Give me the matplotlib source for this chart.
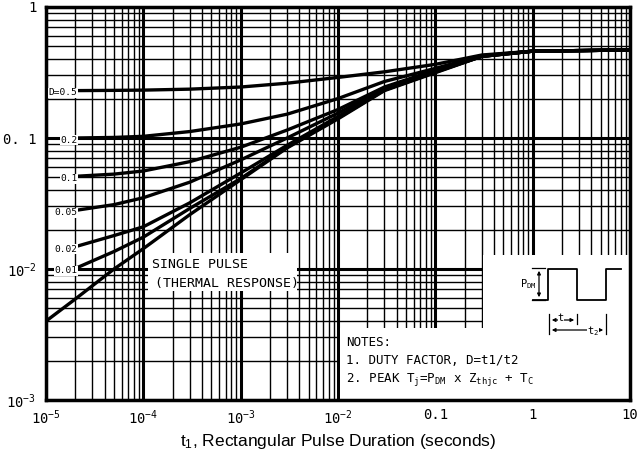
import matplotlib
matplotlib.use("Agg")
import matplotlib.pyplot as plt
from matplotlib.patches import Rectangle
from matplotlib.ticker import FixedLocator, FixedFormatter, LogLocator, NullFormatter

plt.rcParams['mathtext.default'] = 'regular'

# ---- data -------------------------------------------------------------
t_points = [2e-5, 5e-5, 1e-4, 3e-4, 1e-3, 3e-3, 1e-2, 3e-2, 0.1, 0.3, 1, 10]
z_d050 = [0.230, 0.231, 0.232, 0.236, 0.245, 0.262, 0.290, 0.320, 0.365, 0.430, 0.460, 0.470]
z_d020 = [0.100, 0.101, 0.103, 0.112, 0.128, 0.152, 0.200, 0.270, 0.340, 0.425, 0.460, 0.470]
z_d010 = [0.051, 0.053, 0.056, 0.066, 0.085, 0.115, 0.165, 0.245, 0.330, 0.422, 0.460, 0.470]
z_d005 = [0.028, 0.031, 0.035, 0.046, 0.068, 0.100, 0.155, 0.240, 0.325, 0.420, 0.460, 0.470]
z_d002 = [0.0148, 0.0180, 0.021, 0.032, 0.054, 0.088, 0.146, 0.235, 0.320, 0.420, 0.460, 0.470]
z_d001 = [0.0101, 0.0136, 0.0175, 0.029, 0.049, 0.085, 0.142, 0.232, 0.318, 0.420, 0.460, 0.470]
t_single = [1e-5, 2e-5, 5e-5, 1e-4, 3e-4, 1e-3, 3e-3, 1e-2, 3e-2, 0.1, 0.3, 1, 10]
z_single = [0.0040, 0.0059, 0.0100, 0.0143, 0.026, 0.048, 0.084, 0.140, 0.230, 0.315, 0.420, 0.460, 0.470]
duty_labels = ["D=0.5", "0.2", "0.1", "0.05", "0.02", "0.01"]
duty_series = [z_d050, z_d020, z_d010, z_d005, z_d002, z_d001]

x_ticks = [1e-5, 1e-4, 1e-3, 1e-2, 0.1, 1, 10]
x_ticklabels = ["$10^{-5}$", "$10^{-4}$", "$10^{-3}$", "$10^{-2}$", "0.1", "1", "10"]
y_ticks = [1e-3, 1e-2, 0.1, 1]
y_ticklabels = ["$10^{-3}$", "$10^{-2}$", "0. 1", "1"]

# ---- figure -----------------------------------------------------------
fig = plt.figure(figsize=(6.4, 4.5), dpi=100)
L, R, T, B = 46, 630, 7, 400
ax = fig.add_axes([L / 640, 1 - B / 450, (R - L) / 640, (B - T) / 450])
ax.set_xscale('log')
ax.set_yscale('log')
ax.set_xlim(1e-5, 10)
ax.set_ylim(1e-3, 1)

mono = 'DejaVu Sans Mono'

ax.xaxis.set_major_locator(FixedLocator(x_ticks))
ax.xaxis.set_major_formatter(FixedFormatter(x_ticklabels))
ax.yaxis.set_major_locator(FixedLocator(y_ticks))
ax.yaxis.set_major_formatter(FixedFormatter(y_ticklabels))
ax.xaxis.set_minor_locator(LogLocator(base=10, subs=range(2, 10), numticks=20))
ax.yaxis.set_minor_locator(LogLocator(base=10, subs=range(2, 10), numticks=20))
ax.xaxis.set_minor_formatter(NullFormatter())
ax.yaxis.set_minor_formatter(NullFormatter())
ax.tick_params(which='both', length=0)
ax.tick_params(axis='x', pad=6)
ax.tick_params(axis='y', pad=7)
for lab in ax.get_xticklabels() + ax.get_yticklabels():
    lab.set_fontfamily(mono)
    lab.set_fontsize(10)

ax.set_axisbelow(True)
ax.grid(True, which='major', color='black', lw=2.2)
ax.grid(True, which='minor', color='black', lw=1.0)
for s in ax.spines.values():
    s.set_linewidth(2.5)

# helper: pixel -> axes fraction
def P(px, py):
    return ((px - L) / (R - L), (B - py) / (B - T))

# white cut-outs of the grid
def white_box(x0, y0, x1, y1):
    a = P(x0, y1)
    b = P(x1, y0)
    ax.add_patch(Rectangle(a, b[0] - a[0], b[1] - a[1], transform=ax.transAxes,
                           facecolor='white', edgecolor='none', zorder=1))

white_box(148, 253, 297, 291)
white_box(483, 255, 629, 399)
white_box(340, 328, 629, 399)

# curves
for z in duty_series:
    ax.plot(t_points, z, color='black', lw=2.4, zorder=3, solid_capstyle='butt',
            solid_joinstyle='round')
ax.plot(t_single, z_single, color='black', lw=2.4, zorder=3, solid_capstyle='butt',
        solid_joinstyle='round')

# curve labels
for lab, z in zip(duty_labels, duty_series):
    ax.text(2.1e-5, z[0] * 0.96, lab, fontsize=6.8, family=mono, ha='right', va='center',
            zorder=4, bbox=dict(facecolor='white', edgecolor='none', pad=0.3))

# single pulse note
ax.text(*P(152, 265), "SINGLE PULSE", transform=ax.transAxes, fontsize=9.5,
        family=mono, va='center', ha='left', zorder=4)
ax.text(*P(155, 283), "(THERMAL RESPONSE)", transform=ax.transAxes, fontsize=9.5,
        family=mono, va='center', ha='left', zorder=4)

# notes
ax.text(*P(346, 343), "NOTES:", transform=ax.transAxes, fontsize=9, family=mono,
        va='center', zorder=4)
ax.text(*P(346, 361), "1. DUTY FACTOR, D=t1/t2", transform=ax.transAxes, fontsize=9,
        family=mono, va='center', zorder=4)
ax.text(*P(346, 380), "2. PEAK T$_j$=P$_{DM}$ x Z$_{thjc}$ + T$_C$", transform=ax.transAxes,
        fontsize=9, family=mono, va='center', zorder=4)

# pulse diagram
def line(pts, lw=1.3):
    xs, ys = zip(*[P(a, b) for a, b in pts])
    ax.plot(xs, ys, transform=ax.transAxes, color='black', lw=lw, zorder=4, clip_on=False)

line([(533, 300), (548, 300), (548, 269), (577, 269), (577, 300), (606, 300), (606, 269), (621, 269)])
line([(532, 268), (545, 268)], lw=0.9)
line([(532, 300), (545, 300)], lw=0.9)
ax.annotate("", xy=P(539, 268), xytext=P(539, 300), xycoords='axes fraction',
            textcoords='axes fraction',
            arrowprops=dict(arrowstyle='<|-|>', lw=0.9, color='black', mutation_scale=5),
            zorder=4)
ax.text(*P(537, 284), "P$_{DM}$", transform=ax.transAxes, fontsize=7.5, family=mono,
        ha='right', va='center', zorder=5)
line([(549, 314), (549, 334)], lw=0.9)
line([(577, 314), (577, 324)], lw=0.9)
line([(606, 314), (606, 334)], lw=0.9)
ax.annotate("", xy=P(549, 320), xytext=P(577, 320), xycoords='axes fraction',
            textcoords='axes fraction',
            arrowprops=dict(arrowstyle='<|-|>', lw=0.9, color='black', mutation_scale=5),
            zorder=4)
ax.text(*P(561, 318), "t", transform=ax.transAxes, fontsize=7.5, family=mono,
        ha='center', va='center', zorder=5,
        bbox=dict(facecolor='white', edgecolor='none', pad=0.2))
ax.annotate("", xy=P(549, 330), xytext=P(606, 330), xycoords='axes fraction',
            textcoords='axes fraction',
            arrowprops=dict(arrowstyle='<|-|>', lw=0.9, color='black', mutation_scale=5),
            zorder=4)
ax.text(*P(593, 331), "t$_2$", transform=ax.transAxes, fontsize=7.5, family=mono,
        ha='center', va='center', zorder=5,
        bbox=dict(facecolor='white', edgecolor='none', pad=0.2))

ax.set_xlabel("t$_1$, Rectangular Pulse Duration (seconds)", family='Liberation Sans',
              fontsize=12.5, labelpad=4)

fig.savefig("out.png", dpi=100)
